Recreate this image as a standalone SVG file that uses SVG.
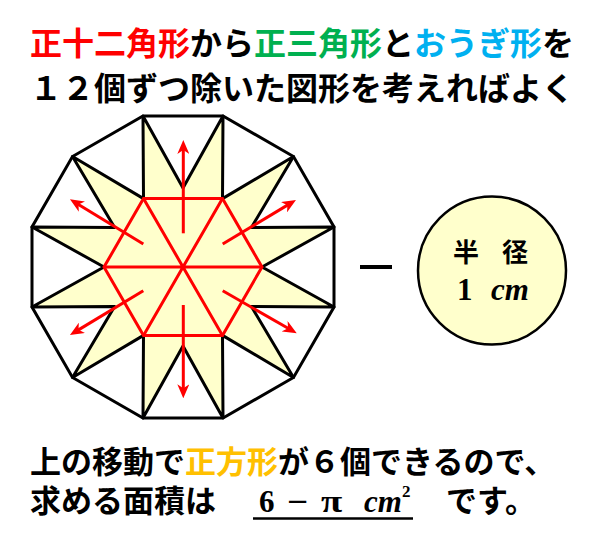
<svg xmlns="http://www.w3.org/2000/svg" width="600" height="540" viewBox="0 0 600 540">
<style>
.jp{font-family:"Noto Sans CJK JP","Noto Sans CJK SC",sans-serif;font-weight:bold;fill:#000}
.ser{font-family:"Liberation Serif",serif;font-weight:bold;fill:#000}
.it{font-style:italic}
.blk{fill:none;stroke:#000;stroke-width:3}
.red{fill:none;stroke:#ff0000;stroke-width:3}
</style>
<defs>
<marker id="ah" markerUnits="userSpaceOnUse" viewBox="0 0 14 12" markerWidth="14" markerHeight="12" refX="6" refY="6" orient="auto">
<path d="M0,0 L14,6 L0,12 L4,6 Z" fill="#ff0000"/>
</marker>
</defs>
<rect width="600" height="540" fill="#fff"/>
<g id="title">
<text class="jp" x="30" y="55" font-size="32"><tspan fill="#ff0000">正十二角形</tspan>から<tspan fill="#00b050">正三角形</tspan>と<tspan fill="#00b0f0">おうぎ形</tspan>を</text>
<text class="jp" x="30" y="100" font-size="32">１２個ずつ除いた図形を考えればよく</text>
</g>
<g id="dodecagon">
<polygon points="334,227 334,307 293.5,377.5 223,418 143,418 72.5,377.5 32,307 32,227 72.5,156.5 143,116 223,116 293.5,156.5" fill="#fff"/>
<polygon points="143,116 183,188 223,116 222.5,198.6 293.5,156.5 251.4,227.5 334,227 262,267 334,307 251.4,306.5 293.5,377.5 222.5,335.4 223,418 183,346 143,418 143.5,335.4 72.5,377.5 114.6,306.5 32,307 104,267 32,227 114.6,227.5 72.5,156.5 143.5,198.6" fill="#ffffcc" stroke="#000" stroke-width="3" stroke-linejoin="round"/>
<polygon class="blk" points="334,227 334,307 293.5,377.5 223,418 143,418 72.5,377.5 32,307 32,227 72.5,156.5 143,116 223,116 293.5,156.5"/>
</g>
<g id="hexagon">
<polygon class="red" points="143.5,198.6 222.5,198.6 262,267 222.5,335.4 143.5,335.4 104,267"/>
<path class="red" d="M143.5,198.6 L222.5,335.4 M222.5,198.6 L143.5,335.4 M104,267 L262,267"/>
</g>
<g id="connectors" stroke="#ff0000" stroke-width="3" fill="none" marker-end="url(#ah)">
<line x1="183.3" y1="233.3" x2="183.3" y2="148"/>
<line x1="183.3" y1="305" x2="183.3" y2="390.3"/>
<line x1="143.3" y1="244" x2="76.8" y2="203.5"/>
<line x1="143.3" y1="290.7" x2="76.8" y2="330.9"/>
<line x1="222.7" y1="244" x2="289.1" y2="204.1"/>
<line x1="222.7" y1="290.7" x2="289.8" y2="329.3"/>
</g>
<g id="minus">
<line x1="360" y1="267" x2="392" y2="267" stroke="#000" stroke-width="4"/>
</g>
<g id="circle">
<circle cx="492" cy="270.5" r="74" fill="#ffffcc" stroke="#000" stroke-width="2.5"/>
<text class="jp" x="453 479 502" y="262" font-size="26">半 径</text>
<text class="ser" y="300" font-size="31"><tspan x="457">1</tspan><tspan class="it" x="491">cm</tspan></text>
</g>
<g id="answer">
<text class="jp" x="30" y="473" font-size="31">上の移動で<tspan fill="#ffc000">正方形</tspan>が６個できるので、</text>
<text class="jp" x="30" y="512" font-size="31">求める面積は</text>
<text class="ser" x="259" y="511.5" font-size="31">6</text>
<text class="ser" transform="translate(287,511.5) scale(1.2,1)" x="0" y="0" font-size="31">−</text>
<text class="ser" transform="translate(321,511.5) scale(1.25,1)" x="0" y="0" font-size="31">π</text>
<text class="ser it" x="364" y="511.5" font-size="31">cm</text>
<text class="ser" x="402" y="497" font-size="17">2</text>
<line x1="253" y1="518.5" x2="413" y2="518.5" stroke="#000" stroke-width="2.5"/>
<text class="jp" x="446" y="512" font-size="31">です。</text>
</g>
</svg>
